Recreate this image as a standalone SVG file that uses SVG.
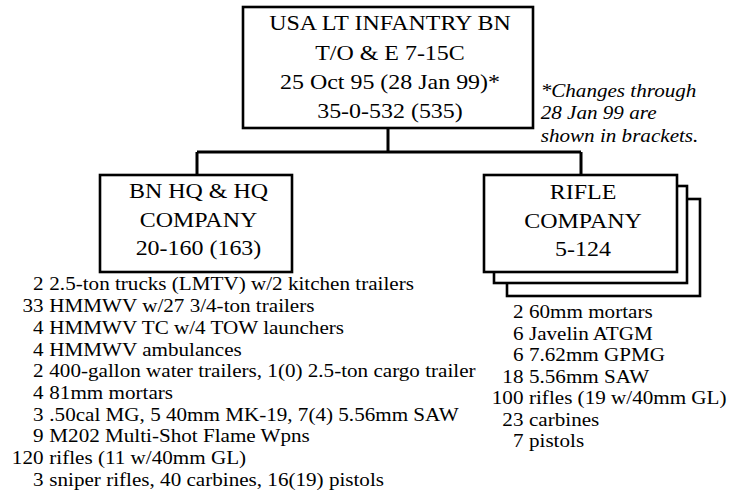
<svg xmlns="http://www.w3.org/2000/svg" width="730" height="491" viewBox="0 0 730 491">
<style>
.box{fill:#fff;stroke:#000;stroke-width:2.6}
.conn{stroke:#000;stroke-width:3;fill:none}
.h{font-family:'Liberation Serif',serif;font-size:20.3px;text-anchor:middle}
.l{font-family:'Liberation Serif',serif;font-size:17.9px}
.n{text-anchor:end}
.note{font-family:'Liberation Serif',serif;font-size:17.9px;font-style:italic}
</style>
<rect width="730" height="491" fill="#fff"/>
<g id="connectors">
<path class="conn" d="M388,128 V152 M197,152 H581 M197,152 V175 M581,152 V175"/>
</g>
<g id="battalion">
<rect class="box" x="243" y="7" width="290" height="121"/>
<g transform="scale(1.18,1)">
<text font-family="Liberation Serif" class="h" x="330.5" y="30">USA LT INFANTRY BN</text>
<text font-family="Liberation Serif" class="h" x="330.5" y="60.5">T/O &amp; E 7-15C</text>
<text font-family="Liberation Serif" class="h" x="330.5" y="89.5">25 Oct 95 (28 Jan 99)*</text>
<text font-family="Liberation Serif" class="h" x="330.5" y="118.5">35-0-532 (535)</text>
</g>
</g>
<g id="note">
<g transform="scale(1.18,1)">
<text font-family="Liberation Serif" class="note" x="458.2" y="97">*Changes through</text>
<text font-family="Liberation Serif" class="note" x="458.2" y="119.5">28 Jan 99 are</text>
<text font-family="Liberation Serif" class="note" x="458.2" y="142">shown in brackets.</text>
</g>
</g>
<g id="hq">
<rect class="box" x="100" y="175" width="192" height="97"/>
<g transform="scale(1.18,1)">
<text font-family="Liberation Serif" class="h" x="168.2" y="198.5">BN HQ &amp; HQ</text>
<text font-family="Liberation Serif" class="h" x="168.2" y="227">COMPANY</text>
<text font-family="Liberation Serif" class="h" x="168.2" y="255.5">20-160 (163)</text>
</g>
<g transform="scale(1.18,1)">
<text font-family="Liberation Serif" class="l" y="290.5"><tspan class="n" x="36.9">2</tspan><tspan x="41.8">2.5-ton trucks (LMTV) w/2 kitchen trailers</tspan></text>
<text font-family="Liberation Serif" class="l" y="312.2"><tspan class="n" x="36.9">33</tspan><tspan x="41.8">HMMWV w/27 3/4-ton trailers</tspan></text>
<text font-family="Liberation Serif" class="l" y="333.9"><tspan class="n" x="36.9">4</tspan><tspan x="41.8">HMMWV TC w/4 TOW launchers</tspan></text>
<text font-family="Liberation Serif" class="l" y="355.6"><tspan class="n" x="36.9">4</tspan><tspan x="41.8">HMMWV ambulances</tspan></text>
<text font-family="Liberation Serif" class="l" y="377.3"><tspan class="n" x="36.9">2</tspan><tspan x="41.8">400-gallon water trailers, 1(0) 2.5-ton cargo trailer</tspan></text>
<text font-family="Liberation Serif" class="l" y="399"><tspan class="n" x="36.9">4</tspan><tspan x="41.8">81mm mortars</tspan></text>
<text font-family="Liberation Serif" class="l" y="420.7"><tspan class="n" x="36.9">3</tspan><tspan x="41.8">.50cal MG, 5 40mm MK-19, 7(4) 5.56mm SAW</tspan></text>
<text font-family="Liberation Serif" class="l" y="442.4"><tspan class="n" x="36.9">9</tspan><tspan x="41.8">M202 Multi-Shot Flame Wpns</tspan></text>
<text font-family="Liberation Serif" class="l" y="464.1"><tspan class="n" x="36.9">120</tspan><tspan x="41.8">rifles (11 w/40mm GL)</tspan></text>
<text font-family="Liberation Serif" class="l" y="485.8"><tspan class="n" x="36.9">3</tspan><tspan x="41.8">sniper rifles, 40 carbines, 16(19) pistols</tspan></text>
</g>
</g>
<g id="rifle">
<rect class="box" x="507" y="199" width="193" height="97"/>
<rect class="box" x="494" y="186" width="193" height="97"/>
<rect class="box" x="484" y="175" width="193" height="97"/>
<g transform="scale(1.18,1)">
<text font-family="Liberation Serif" class="h" x="494.1" y="199.5">RIFLE</text>
<text font-family="Liberation Serif" class="h" x="494.1" y="228">COMPANY</text>
<text font-family="Liberation Serif" class="h" x="494.1" y="256.5">5-124</text>
</g>
<g transform="scale(1.18,1)">
<text font-family="Liberation Serif" class="l" y="318.5"><tspan class="n" x="443.6">2</tspan><tspan x="448.3">60mm mortars</tspan></text>
<text font-family="Liberation Serif" class="l" y="340"><tspan class="n" x="443.6">6</tspan><tspan x="448.3">Javelin ATGM</tspan></text>
<text font-family="Liberation Serif" class="l" y="361.5"><tspan class="n" x="443.6">6</tspan><tspan x="448.3">7.62mm GPMG</tspan></text>
<text font-family="Liberation Serif" class="l" y="383"><tspan class="n" x="443.6">18</tspan><tspan x="448.3">5.56mm SAW</tspan></text>
<text font-family="Liberation Serif" class="l" y="404.5"><tspan class="n" x="443.6">100</tspan><tspan x="448.3">rifles (19 w/40mm GL)</tspan></text>
<text font-family="Liberation Serif" class="l" y="426"><tspan class="n" x="443.6">23</tspan><tspan x="448.3">carbines</tspan></text>
<text font-family="Liberation Serif" class="l" y="447.5"><tspan class="n" x="443.6">7</tspan><tspan x="448.3">pistols</tspan></text>
</g>
</g>
</svg>
